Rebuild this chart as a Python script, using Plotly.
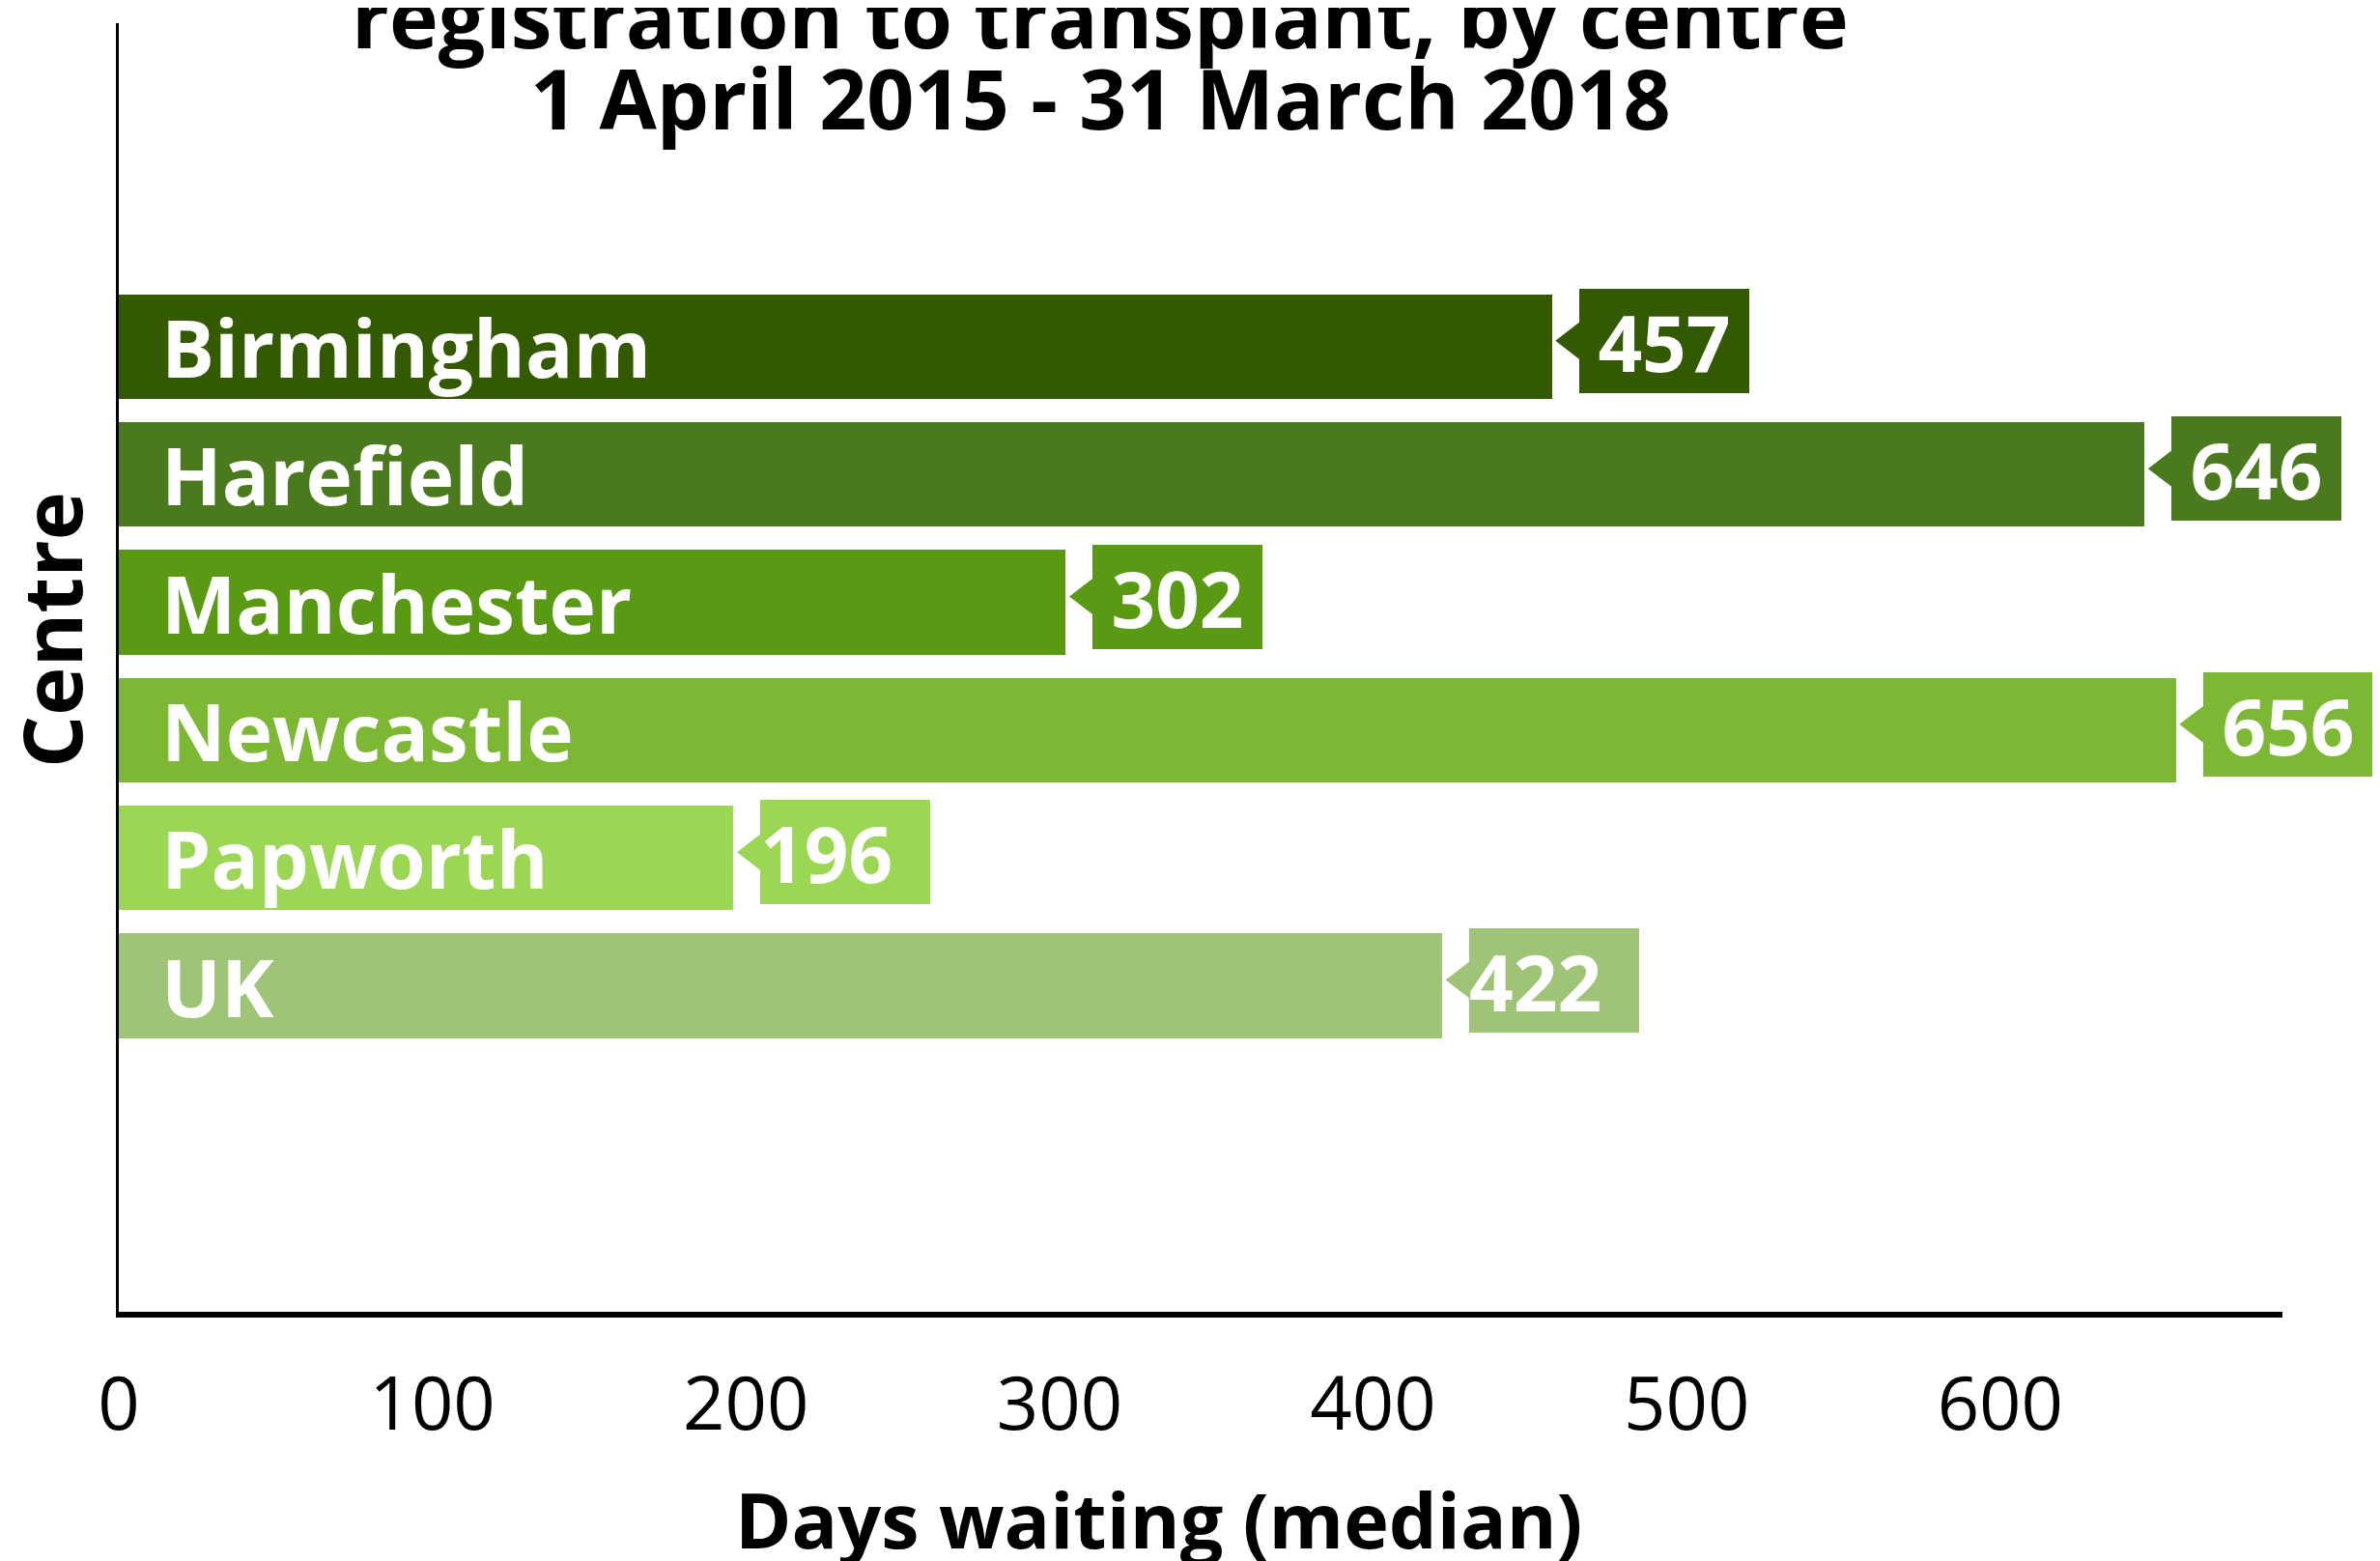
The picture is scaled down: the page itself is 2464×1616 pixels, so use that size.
import plotly.graph_objects as go

# ---------------- data ----------------
centres = ["Birmingham", "Harefield", "Manchester", "Newcastle", "Papworth", "UK"]
median_days = [457, 646, 302, 656, 196, 422]
x_tick_values = [0, 100, 200, 300, 400, 500, 600]
x_tick_labels = ["0", "100", "200", "300", "400", "500", "600"]

title_lines = ["registration to transplant, by centre", "1 April 2015 - 31 March 2018"]
x_title = "Days waiting (median)"
y_title = "Centre"

# ---------------- style ----------------
bar_colours = ["#335a00", "#4a7a1d", "#5a9914", "#7cb834", "#9cd655", "#a0c477"]
value_align = {"Papworth": "left", "UK": "left"}
FONT = "Open Sans"

W, H = 2464, 1616
PAGE_OFF = 8  # default body margin of the html page
# target plot area in window pixels
PL, PR, PT, PB = 123, 2363, 24, 1358
margin = dict(l=PL - PAGE_OFF, r=W - (PR - PAGE_OFF), t=PT - PAGE_OFF, b=H - (PB - PAGE_OFF))
x_range = [0, 690]
y_range = [7.55, -2.53]
plot_w = PR - PL
plot_h = PB - PT
px_per_day = plot_w / (x_range[1] - x_range[0])
px_per_row = plot_h / abs(y_range[0] - y_range[1])


def paper_x(px):
    return (px - PL) / plot_w


def paper_y(py):
    return (PB - py) / plot_h


positions = list(range(len(centres)))

fig = go.Figure()
fig.add_trace(go.Bar(
    x=median_days, y=positions, orientation="h", width=0.82,
    marker=dict(color=bar_colours, line=dict(width=0)),
    hoverinfo="skip", showlegend=False,
))

# callout pointers (triangle to the left of each value box)
pointer_size = 35
pointer_half_w = pointer_size / 2 * 2 / 3 ** 0.5
box_lift_px = 6
fig.add_trace(go.Scatter(
    x=[v + (1 + pointer_half_w) / px_per_day for v in median_days],
    y=[p - box_lift_px / px_per_row for p in positions],
    mode="markers",
    marker=dict(symbol="triangle-left", size=pointer_size, color=bar_colours, line=dict(width=0)),
    cliponaxis=False, hoverinfo="skip", showlegend=False,
))

# value boxes and category names
for p, c, v, col in zip(positions, centres, median_days, bar_colours):
    fig.add_annotation(
        x=v, y=p, xref="x", yref="y", text=f"<b>{v}</b>", showarrow=False,
        xanchor="left", yanchor="middle", xshift=28, yshift=box_lift_px,
        width=176, height=108, bgcolor=col, borderpad=0, borderwidth=0,
        align=value_align.get(c, "center"), valign="middle",
        font=dict(family=FONT, size=80, color="white", weight=700),
    )
    fig.add_annotation(
        x=0, y=p, xref="x", yref="y", text=f"<b>{c}</b>", showarrow=False,
        xanchor="left", yanchor="middle", xshift=42,
        font=dict(family=FONT, size=82, color="white", weight=700),
    )

# title lines
fig.add_annotation(x=paper_x(1139), y=paper_y(17), xref="paper", yref="paper",
                   text=f"<b>{title_lines[0]}</b>", showarrow=False, xanchor="center", yanchor="middle",
                   font=dict(family=FONT, size=86, color="black", weight=700))
fig.add_annotation(x=paper_x(1139), y=paper_y(100), xref="paper", yref="paper",
                   text=f"<b>{title_lines[1]}</b>", showarrow=False, xanchor="center", yanchor="middle",
                   font=dict(family=FONT, size=86, color="black", weight=700))

# axis titles
fig.add_annotation(x=paper_x(1199), y=paper_y(1572), xref="paper", yref="paper",
                   text=f"<b>{x_title}</b>", showarrow=False, xanchor="center", yanchor="middle",
                   font=dict(family=FONT, size=79, color="black", weight=700))
fig.add_annotation(x=paper_x(52), y=paper_y(652), xref="paper", yref="paper",
                   text=f"<b>{y_title}</b>", showarrow=False, textangle=-90, xanchor="center", yanchor="middle",
                   font=dict(family=FONT, size=85, color="black", weight=700))

fig.update_layout(
    width=W, height=H, margin=margin,
    paper_bgcolor="white", plot_bgcolor="white",
    showlegend=False, bargap=0,
    xaxis=dict(range=x_range, tickvals=x_tick_values, ticktext=x_tick_labels,
               showgrid=False, zeroline=False, showline=True, linewidth=6, linecolor="black",
               ticks="", ticklabelstandoff=25,
               tickfont=dict(family=FONT, size=76, color="black")),
    yaxis=dict(range=y_range, showticklabels=False, showgrid=False, zeroline=False,
               showline=True, linewidth=3, linecolor="black", ticks=""),
)

fig.write_html("out.html")
